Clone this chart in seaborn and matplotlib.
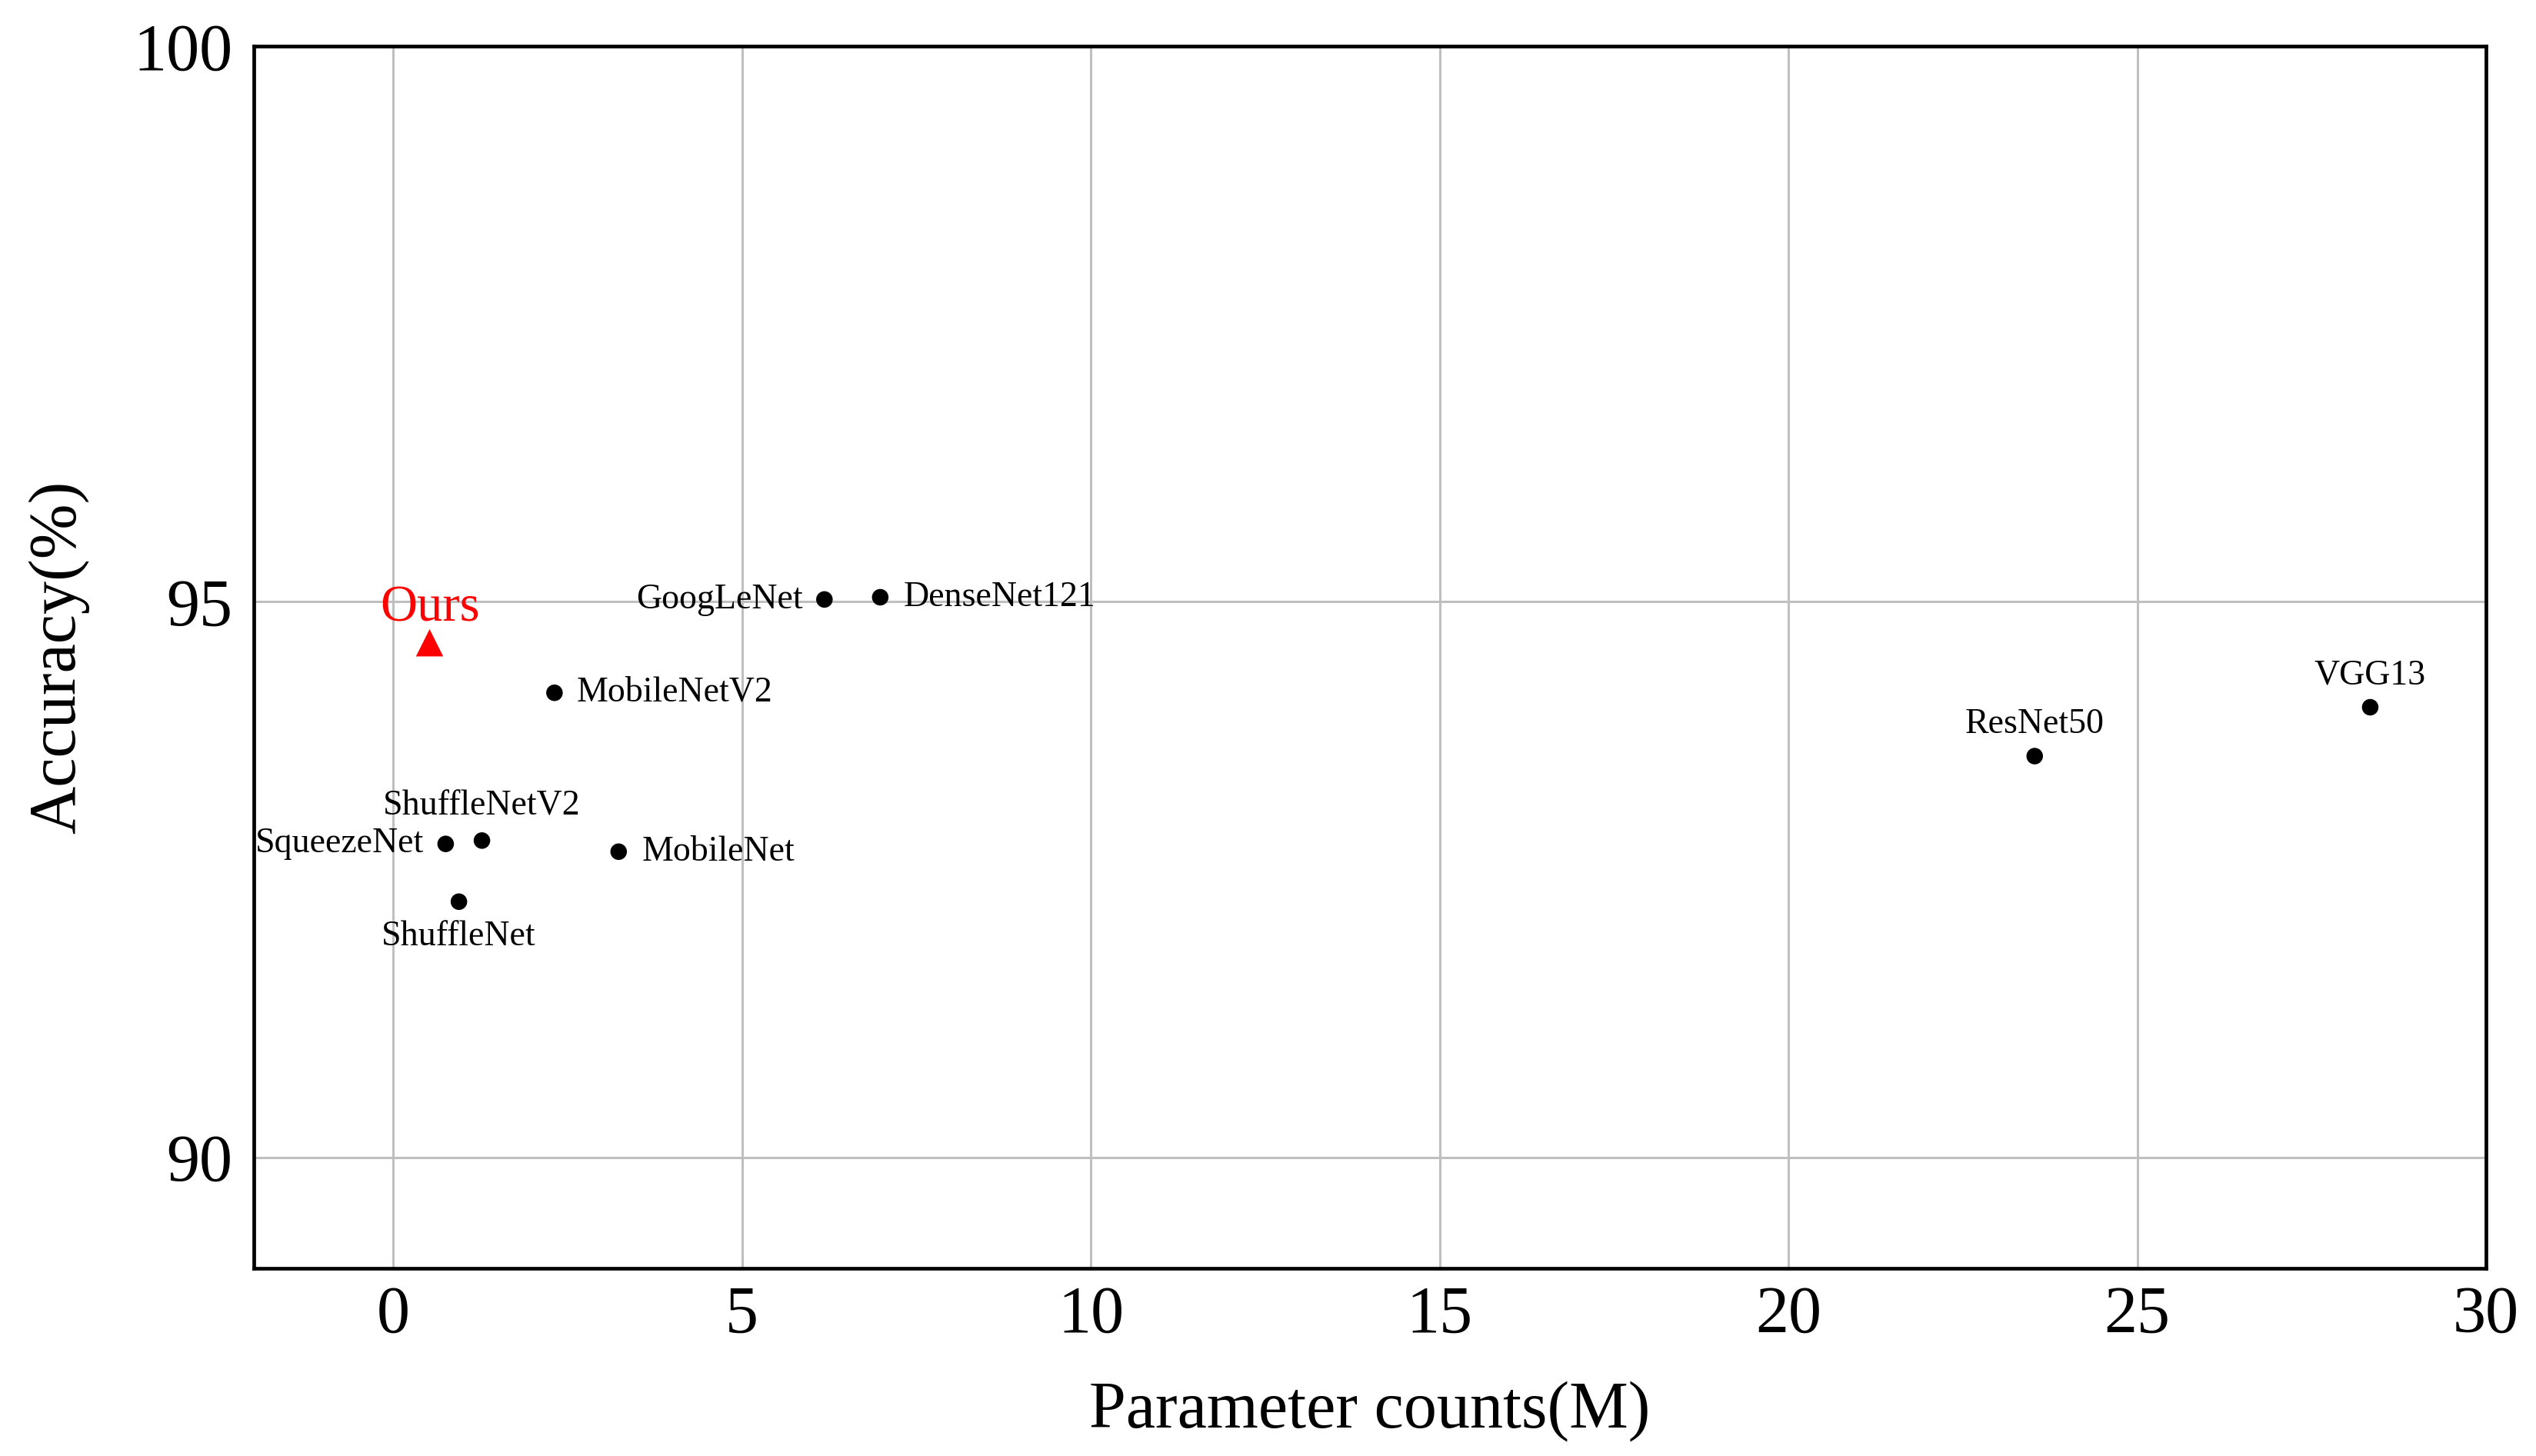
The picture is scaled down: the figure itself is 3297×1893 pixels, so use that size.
import matplotlib
matplotlib.use("Agg")
import matplotlib.pyplot as plt
import seaborn as sns
import pandas as pd

# Data
models = ["GoogLeNet", "DenseNet121", "MobileNetV2", "MobileNet", "SqueezeNet",
          "ShuffleNetV2", "ShuffleNet", "ResNet50", "VGG13"]
params = [6.18, 6.98, 2.31, 3.23, 0.75, 1.27, 0.94, 23.53, 28.34]
accuracy = [95.02, 95.04, 94.18, 92.75, 92.82, 92.85, 92.30, 93.61, 94.05]
ours_params = [0.52]
ours_accuracy = [94.63]
xticks = [0, 5, 10, 15, 20, 25, 30]
yticks = [90, 95, 100]

# label placement: (dx pt, dy pt, ha)
placement = {
    "GoogLeNet": (-20, 0, "right"),
    "DenseNet121": (22, 0, "left"),
    "MobileNetV2": (21, 0, "left"),
    "MobileNet": (22, 0, "left"),
    "SqueezeNet": (-20, 0, "right"),
    "ShuffleNetV2": (0, 32, "center"),
    "ShuffleNet": (0, -33, "center"),
    "ResNet50": (0, 30, "center"),
    "VGG13": (0, 30, "center"),
}

sns.set_theme(style="whitegrid")
plt.rcParams["font.family"] = ["Liberation Serif", "DejaVu Serif"]

df = pd.DataFrame({"model": models, "params": params, "accuracy": accuracy})
ours = pd.DataFrame({"params": ours_params, "accuracy": ours_accuracy})

fig = plt.figure(figsize=(32.98, 18.93), dpi=100)
ax = fig.add_axes([330 / 3298, 1 - 1649 / 1893, (3232 - 330) / 3298, (1649 - 60) / 1893])

sns.scatterplot(data=df, x="params", y="accuracy", ax=ax, color="black",
                s=240, edgecolor="none", zorder=3)
sns.scatterplot(data=ours, x="params", y="accuracy", ax=ax, color="red",
                marker="^", s=650, edgecolor="none", zorder=3)

for m, x, y in zip(models, params, accuracy):
    dx, dy, ha = placement[m]
    ax.annotate(m, (x, y), xytext=(dx, dy), textcoords="offset points",
                ha=ha, va="center", fontsize=33, color="black")
ax.annotate("Ours", (ours_params[0], ours_accuracy[0]), xytext=(0, 32),
            textcoords="offset points", ha="center", va="center",
            fontsize=48, color="red")

ax.set_xlim(-2, 30)
ax.set_ylim(89, 100)
ax.set_xticks(xticks)
ax.set_yticks(yticks)
ax.tick_params(axis="both", labelsize=62, length=0, colors="black")
ax.tick_params(axis="x", pad=16)
ax.tick_params(axis="y", pad=20)

ax.grid(True, color="#bfbfbf", linewidth=2.2)
ax.set_facecolor("white")
for sp in ax.spines.values():
    sp.set_color("black")
    sp.set_linewidth(3.4)

ax.set_xlabel("Parameter counts(M)", fontsize=62, color="black", labelpad=32)
ax.set_ylabel("Accuracy(%)", fontsize=62, color="black", labelpad=41)

fig.savefig("out.png", dpi=100, facecolor="white")
